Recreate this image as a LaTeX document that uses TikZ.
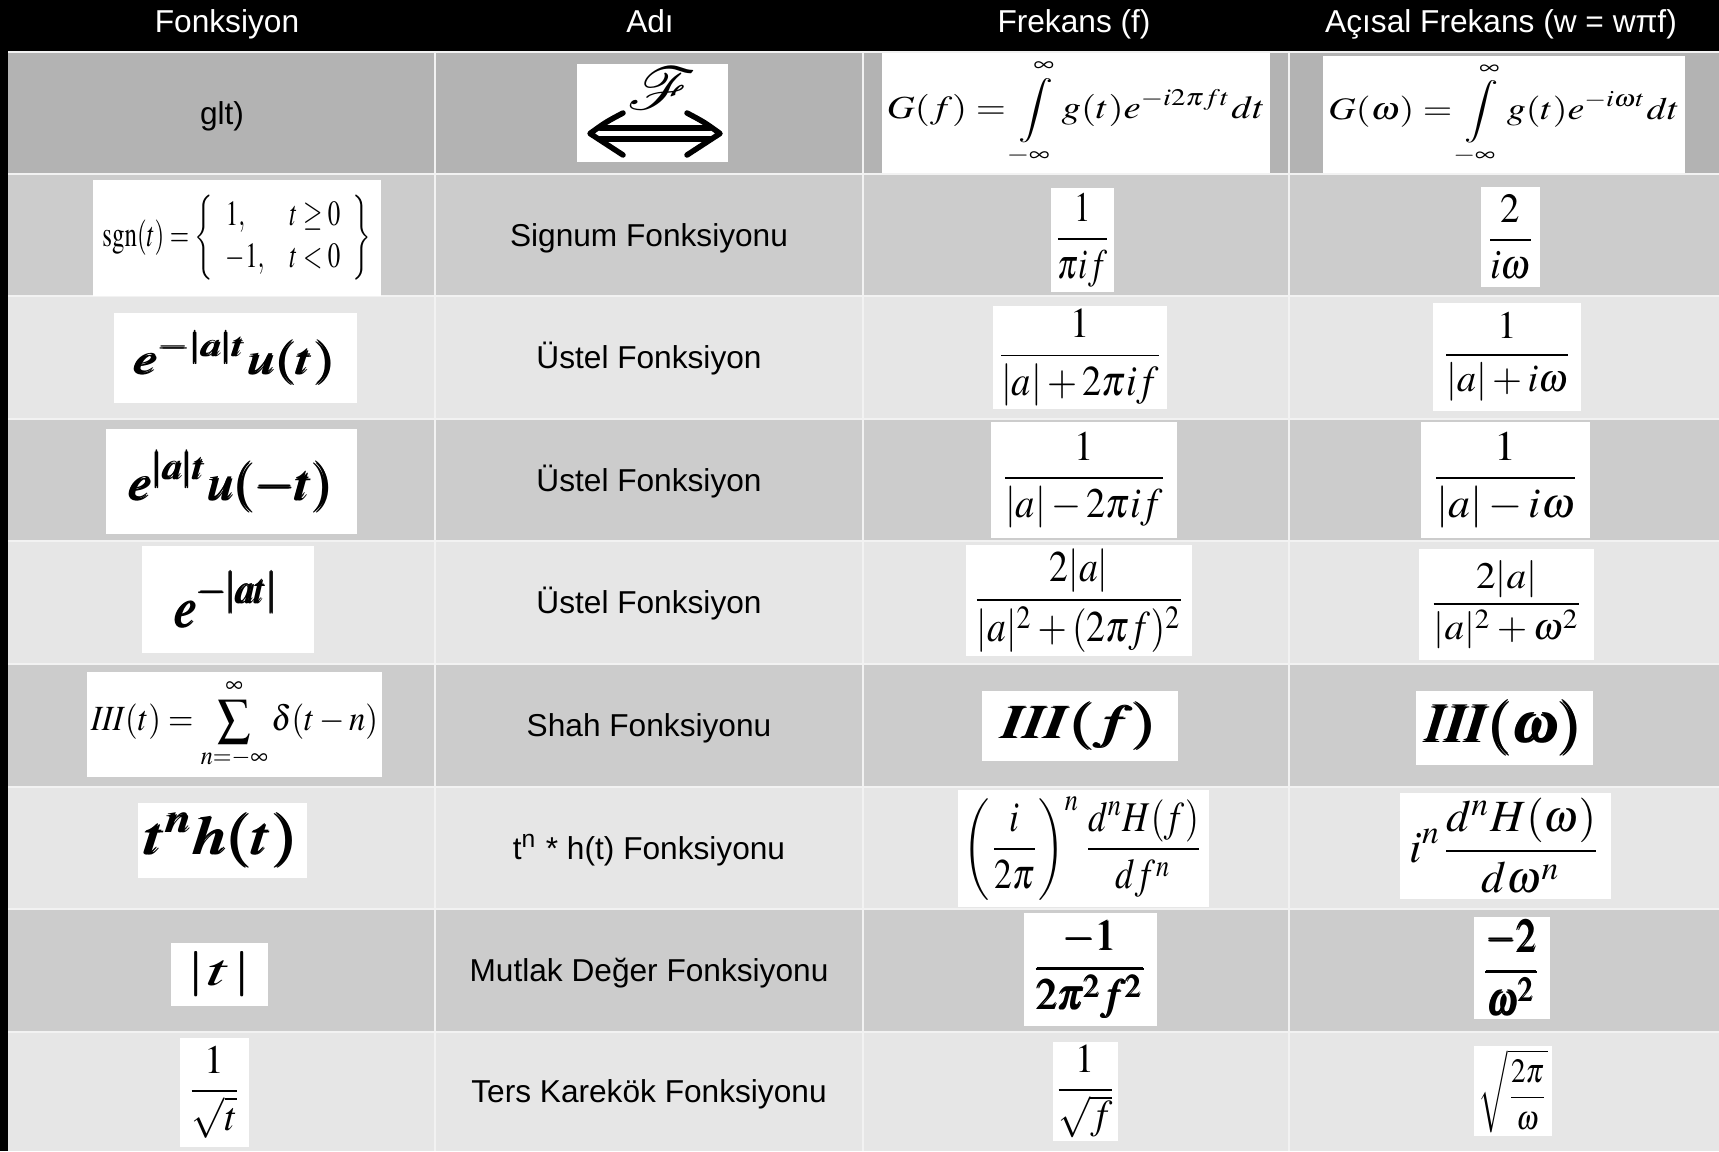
\documentclass[tikz,border=0pt]{standalone}
\usepackage{amsmath,amssymb}
\usepackage{mathptmx}
\usepackage{mathrsfs}
\usepackage{graphicx}
\usepackage[no-math]{fontspec}
\newfontfamily\arial{Liberation Sans}
\usepackage{xcolor}
\usepackage{tikz}

\definecolor{rowdark}{HTML}{B3B3B3}
\definecolor{rowmid}{HTML}{CCCCCC}
\definecolor{rowlight}{HTML}{E6E6E6}
\definecolor{cellline}{HTML}{F2F2F2}

% formula scaled to the size it has in the table
\newcommand{\fml}[3]{\resizebox*{#1}{#2}{$\displaystyle #3$}}
\newcommand{\fmlb}[3]{\resizebox*{#1}{#2}{\boldmath$\displaystyle\pmb{#3}$}}

\begin{document}
\begin{tikzpicture}[
    x=0.01cm, y=-0.01cm,
    hdr/.style={text=white, font=\arial\fontsize{9}{11}\selectfont, inner sep=0pt, anchor=base},
    lbl/.style={text=black, font=\arial\fontsize{9}{11}\selectfont, inner sep=0pt, anchor=base},
    wbox/.style={fill=white, inner sep=0pt},
    cellrule/.style={draw=cellline, line width=0.02cm},
    fourier/.style={line width=0.055cm, line cap=round, line join=round}
]
    \useasboundingbox (0,0) rectangle (1719,1151);
    \fill[black] (0,0) rectangle (1719,1151);

    % rows
    \fill[rowdark]  (8,52)   rectangle (1719,174);
    \fill[rowmid]   (8,174)  rectangle (1719,296);
    \fill[rowlight] (8,296)  rectangle (1719,419);
    \fill[rowmid]   (8,419)  rectangle (1719,541);
    \fill[rowlight] (8,541)  rectangle (1719,664);
    \fill[rowmid]   (8,664)  rectangle (1719,787);
    \fill[rowlight] (8,787)  rectangle (1719,909);
    \fill[rowmid]   (8,909)  rectangle (1719,1032);
    \fill[rowlight] (8,1032) rectangle (1719,1151);

    % cell lines
    \draw[cellrule] (8,52) -- (1719,52);
    \draw[cellrule] (8,174) -- (1719,174);
    \draw[cellrule] (8,296) -- (1719,296);
    \draw[cellrule] (8,419) -- (1719,419);
    \draw[cellrule] (8,541) -- (1719,541);
    \draw[cellrule] (8,664) -- (1719,664);
    \draw[cellrule] (8,787) -- (1719,787);
    \draw[cellrule] (8,909) -- (1719,909);
    \draw[cellrule] (8,1032) -- (1719,1032);
    \draw[cellrule] (435,52) -- (435,1151);
    \draw[cellrule] (863,52) -- (863,1151);
    \draw[cellrule] (1289,52) -- (1289,1151);

    % header
    \node[hdr] (hfun) at (227,32) {Fonksiyon};
    \node[hdr] (hname) at (650,32) {Adı};
    \node[hdr] (hfreq) at (1074,32) {Frekans (f)};
    \node[hdr] (hang) at (1501,32) {Açısal Frekans (w = wπf)};

    % row 1
    \node[lbl] (g) at (222,124) {glt)};
    \node[wbox, minimum width=1.51cm, minimum height=0.98cm] (ft) at (652.5,113) {};
    \node[inner sep=0pt] (fsym) at (662,88) {\resizebox*{0.69cm}{0.42cm}{$\mathscr{F}$}};
    \draw[fourier] (600,128) -- (710,128);
    \draw[fourier] (600,139) -- (710,139);
    \draw[fourier] (623,113) .. controls (606,122) .. (590,133.5) .. controls (606,145) .. (623,155);
    \draw[fourier] (687,113) .. controls (704,122) .. (720,133.5) .. controls (704,145) .. (687,155);
    \node[wbox, minimum width=3.88cm, minimum height=1.20cm] (gf) at (1076,113)
        {\fml{3.78cm}{1.08cm}{G(f)=\int\limits_{-\infty}^{\infty} g(t)e^{-i2\pi ft}dt}};
    \node[wbox, minimum width=3.62cm, minimum height=1.17cm] (gw) at (1504,114.5)
        {\fml{3.51cm}{1.05cm}{G(\omega)=\int\limits_{-\infty}^{\infty} g(t)e^{-i\omega t}dt}};

    % row 2
    \node[wbox, minimum width=2.88cm, minimum height=1.16cm] (sgn) at (237,238)
        {\fml{2.69cm}{0.85cm}{\mathrm{sgn}(t)=\left\{\begin{array}{ll}1, & t\geq 0\\ -1, & t<0\end{array}\right\}}};
    \node[lbl] (sgnname) at (649,246) {Signum Fonksiyonu};
    \node[wbox, minimum width=0.63cm, minimum height=1.04cm] (sgnf) at (1082.5,240)
        {\fml{0.57cm}{0.94cm}{\frac{1}{\pi i f}}};
    \node[wbox, minimum width=0.59cm, minimum height=1.00cm] (sgnw) at (1510.5,237)
        {\fml{0.50cm}{0.85cm}{\frac{2}{i\omega}}};

    % row 3
    \node[wbox, minimum width=2.43cm, minimum height=0.90cm] (ex1) at (235.5,358)
        {\fmlb{2.01cm}{0.54cm}{e^{-|a|t}u(t)}};
    \node[lbl] (ex1name) at (649,368.5) {Üstel Fonksiyon};
    \node[wbox, minimum width=1.74cm, minimum height=1.03cm] (ex1f) at (1080,357.5)
        {\fml{1.67cm}{0.97cm}{\frac{1}{|a|+2\pi i f}}};
    \node[wbox, minimum width=1.48cm, minimum height=1.08cm] (ex1w) at (1507,357)
        {\fml{1.31cm}{0.89cm}{\frac{1}{|a|+i\omega}}};

    % row 4
    \node[wbox, minimum width=2.51cm, minimum height=1.05cm] (ex2) at (231.5,481.5)
        {\fmlb{2.04cm}{0.62cm}{e^{|a|t}u(-t)}};
    \node[lbl] (ex2name) at (649,491) {Üstel Fonksiyon};
    \node[wbox, minimum width=1.86cm, minimum height=1.16cm] (ex2f) at (1084,480)
        {\fml{1.67cm}{0.96cm}{\frac{1}{|a|-2\pi i f}}};
    \node[wbox, minimum width=1.69cm, minimum height=1.16cm] (ex2w) at (1505.5,480)
        {\fml{1.49cm}{0.96cm}{\frac{1}{|a|-i\omega}}};

    % row 5
    \node[wbox, minimum width=1.72cm, minimum height=1.07cm] (ex3) at (228,599.5)
        {\fmlb{1.04cm}{0.58cm}{e^{-|at|}}};
    \node[lbl] (ex3name) at (649,613.5) {Üstel Fonksiyon};
    \node[wbox, minimum width=2.26cm, minimum height=1.11cm] (ex3f) at (1079,600.5)
        {\fml{2.13cm}{1.03cm}{\frac{2|a|}{|a|^2+(2\pi f)^2}}};
    \node[wbox, minimum width=1.75cm, minimum height=1.11cm] (ex3w) at (1506.5,604.5)
        {\fml{1.55cm}{0.88cm}{\frac{2|a|}{|a|^2+\omega^2}}};

    % row 6
    \node[wbox, minimum width=2.95cm, minimum height=1.05cm] (sha) at (234.5,724.5)
        {\fml{2.87cm}{0.92cm}{\mathit{III}(t)=\sum_{n=-\infty}^{\infty}\delta(t-n)}};
    \node[lbl] (shaname) at (649,736.5) {Shah Fonksiyonu};
    \node[wbox, minimum width=1.96cm, minimum height=0.70cm] (shaf) at (1080,726)
        {\fmlb{1.55cm}{0.49cm}{\mathit{III}(f)}};
    \node[wbox, minimum width=1.77cm, minimum height=0.74cm] (shaw) at (1504.5,728)
        {\fmlb{1.57cm}{0.56cm}{\mathit{III}(\omega)}};

    % row 7
    \node[wbox, minimum width=1.69cm, minimum height=0.75cm] (tn) at (222.5,840.5)
        {\fmlb{1.53cm}{0.56cm}{t^n h(t)}};
    \node[lbl] (tnname) at (649,859) {t\textsuperscript{n} * h(t) Fonksiyonu};
    \node[wbox, minimum width=2.51cm, minimum height=1.17cm] (tnf) at (1083.5,848.5)
        {\fml{2.39cm}{1.03cm}{\left(\frac{i}{2\pi}\right)^{n}\frac{d^nH(f)}{df^n}}};
    \node[wbox, minimum width=2.11cm, minimum height=1.06cm] (tnw) at (1505.5,846)
        {\fml{1.92cm}{0.95cm}{i^n\frac{d^nH(\omega)}{d\omega^n}}};

    % row 8
    \node[wbox, minimum width=0.97cm, minimum height=0.63cm] (abs) at (219.5,974.5)
        {\resizebox*{0.67cm}{0.45cm}{\boldmath$|t|$}};
    \node[lbl] (absname) at (649,981.5) {Mutlak Değer Fonksiyonu};
    \node[wbox, minimum width=1.33cm, minimum height=1.13cm] (absf) at (1090.5,969.5)
        {\fmlb{1.16cm}{0.99cm}{\frac{-1}{2\pi^2f^2}}};
    \node[wbox, minimum width=0.76cm, minimum height=1.02cm] (absw) at (1512,968)
        {\fmlb{0.60cm}{0.96cm}{\frac{-2}{\omega^2}}};

    % row 9
    \node[wbox, minimum width=0.69cm, minimum height=1.09cm] (isq) at (214.5,1092.5)
        {\fml{0.55cm}{0.92cm}{\frac{1}{\sqrt{t}}}};
    \node[lbl] (isqname) at (649,1102.5) {Ters Karekök Fonksiyonu};
    \node[wbox, minimum width=0.65cm, minimum height=0.99cm] (isqf) at (1085.5,1091.5)
        {\fml{0.63cm}{0.93cm}{\frac{1}{\sqrt{f}}}};
    \node[wbox, minimum width=0.78cm, minimum height=0.90cm] (isqw) at (1513,1091)
        {\fml{0.69cm}{0.83cm}{\sqrt{\frac{2\pi}{\omega}}}};
\end{tikzpicture}
\end{document}
